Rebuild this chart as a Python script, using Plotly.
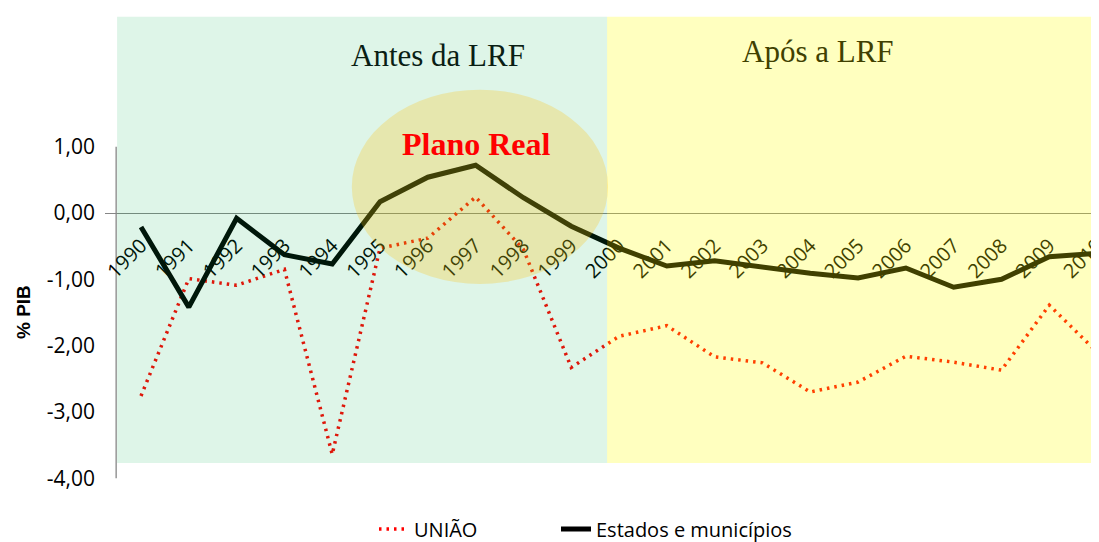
import plotly.graph_objects as go

years = list(range(1990, 2011))
year_labels = [str(y) for y in years]

uniao = [-2.76, -0.99, -1.09, -0.85, -3.64, -0.53, -0.38, 0.24, -0.55, -2.33,
         -1.86, -1.70, -2.17, -2.26, -2.70, -2.55, -2.16, -2.25, -2.37, -1.39, -2.10]
estados = [-0.21, -1.42, -0.08, -0.63, -0.77, 0.17, 0.54, 0.72, 0.23, -0.20,
           -0.53, -0.80, -0.72, -0.81, -0.91, -0.98, -0.83, -1.12, -1.00, -0.66, -0.61]

y_ticks = [1, 0, -1, -2, -3, -4]
y_tick_labels = ["1,00", "0,00", "-1,00", "-2,00", "-3,00", "-4,00"]

series_names = ["UNIÃO", "Estados e municípios"]

# page body adds an 8px offset; figure sized to fit inside the window
W, H = 1091, 534
ML, MB = 97, 40
PLOT_W = W - ML
PLOT_H = H - MB
zero_pos = (PLOT_H - 205) / PLOT_H


def px_x(sx):
    return (sx - 8 - ML) / PLOT_W


def px_y(sy):
    return (PLOT_H - (sy - 8)) / PLOT_H


fig = go.Figure()
fig.add_trace(go.Scatter(
    x=years, y=uniao, name=series_names[0], mode="lines", legend="legend",
    line=dict(color="#FF0000", width=3.5, dash="2.5px,5px"),
))
fig.add_trace(go.Scatter(
    x=years, y=estados, name=series_names[1], mode="lines", legend="legend2",
    line=dict(color="#000000", width=5),
))

shapes = [
    dict(type="line", xref="x", yref="y", x0=1989.48, x1=1989.48,
         y0=min(y_ticks), y1=max(y_ticks), line=dict(color="#868686", width=1.3),
         layer="below"),
    dict(type="rect", xref="x", yref="y", x0=1989.5, x1=1999.75, y0=-3.77, y1=2.96,
         fillcolor="rgb(0,176,80)", opacity=0.13, line=dict(width=0), layer="above"),
    dict(type="rect", xref="x", yref="y", x0=1999.75, x1=2011, y0=-3.77, y1=2.96,
         fillcolor="rgb(255,255,0)", opacity=0.25, line=dict(width=0), layer="above"),
    dict(type="circle", xref="x", yref="y", x0=1994.41, x1=1999.77, y0=-1.07, y1=1.86,
         fillcolor="rgb(255,192,0)", opacity=0.25, line=dict(width=0), layer="above"),
]

annotations = [
    dict(text="Antes da LRF", x=1996.21, y=2.38, xref="x", yref="y", showarrow=False,
         font=dict(family="Liberation Serif", size=31, color="#0a1e14")),
    dict(text="Após a LRF", x=2004.16, y=2.44, xref="x", yref="y", showarrow=False,
         font=dict(family="Liberation Serif", size=31, color="#404000")),
    dict(text="<b>Plano Real</b>", x=1997.01, y=1.04, xref="x", yref="y", showarrow=False,
         font=dict(family="Liberation Serif", size=32, color="#FF0000")),
    dict(text="<b>% PIB</b>", x=px_x(23), y=px_y(312), xref="paper", yref="paper",
         xanchor="center", yanchor="middle",
         showarrow=False, textangle=-90,
         font=dict(family="Liberation Sans", size=19, color="#000000")),
]

legend_font = dict(family="Open Sans", size=20, color="#000000")

fig.update_layout(
    width=W, height=H,
    margin=dict(l=ML, r=0, t=0, b=MB, autoexpand=False),
    paper_bgcolor="white", plot_bgcolor="white",
    showlegend=True,
    legend=dict(orientation="h", x=px_x(374), xanchor="left",
                y=px_y(529), yanchor="middle",
                font=legend_font, bgcolor="rgba(0,0,0,0)"),
    legend2=dict(orientation="h", x=px_x(556), xanchor="left",
                 y=px_y(529), yanchor="middle",
                 font=legend_font, bgcolor="rgba(0,0,0,0)"),
    shapes=shapes,
    annotations=annotations,
    xaxis=dict(range=[1989.247, 2010.04], tickmode="array", tickvals=years,
               ticktext=year_labels, tickangle=-45, anchor="free", position=zero_pos,
               showline=False, showgrid=False, zeroline=False,
               ticks="outside", ticklen=12, tickcolor="rgba(0,0,0,0)",
               automargin=False, ticklabeloverflow="allow",
               tickfont=dict(family="Open Sans", size=20, color="#000000")),
    yaxis=dict(range=[-4.359, 3.092], tickmode="array", tickvals=y_ticks,
               ticktext=y_tick_labels, showgrid=False, zeroline=True,
               zerolinecolor="#868686", zerolinewidth=1, showline=False, ticks="",
               ticklabelstandoff=9, automargin=False,
               tickfont=dict(family="Open Sans", size=21, color="#000000")),
)

fig.write_html("out.html")
